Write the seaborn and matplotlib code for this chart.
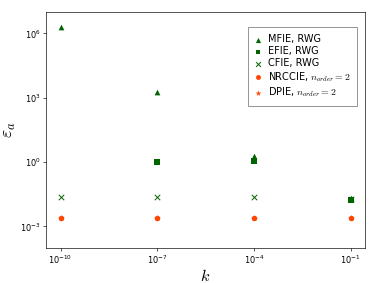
import numpy as np
import pandas as pd
import seaborn as sns
import matplotlib
matplotlib.use("Agg")
import matplotlib.pyplot as plt
from matplotlib.ticker import NullLocator

plt.rcParams['mathtext.fontset'] = 'cm'

k = [1e-10, 1e-7, 1e-4, 1e-1]
mfie = [1.9e6, 1.8e3, 1.9, 0.022]
efie = [np.nan, 1.0, 1.1, 0.017]
cfie = [0.024, 0.024, 0.024, 0.02]
nrccie = [2.4e-3, 2.4e-3, 2.4e-3, 2.4e-3]
dpie = [2.4e-3, 2.4e-3, 2.4e-3, 2.4e-3]

series = [
    ("MFIE, RWG", mfie, "^", "darkgreen", 50),
    ("EFIE, RWG", efie, "s", "darkgreen", 45),
    ("CFIE, RWG", cfie, "x", "darkgreen", 45),
    (r"NRCCIE, $n_{order}=2$", nrccie, "o", "orangered", 45),
    (r"DPIE, $n_{order}=2$", dpie, "*", "orangered", 70),
]

dpi = 58.5
fig, ax = plt.subplots(figsize=(374 / dpi, 283 / dpi), dpi=dpi)
fig.subplots_adjust(left=0.123, right=0.976, bottom=0.124, top=0.958)

for name, vals, mk, col, size in series:
    df = pd.DataFrame({"k": k, "err": vals}).dropna()
    sns.scatterplot(data=df, x="k", y="err", marker=mk, color=col, s=size,
                    linewidth=1.2 if mk == "x" else 0, label=name, ax=ax)

ax.set_xscale("log")
ax.set_yscale("log")
ax.set_ylim(1e-4, 1e7)
ax.set_xticks(k)
ax.set_yticks([1e-3, 1e0, 1e3, 1e6])
ax.xaxis.set_minor_locator(NullLocator())
ax.yaxis.set_minor_locator(NullLocator())
ax.set_xlabel("$k$", fontsize=20, labelpad=2)
ax.set_ylabel(r"$\varepsilon_a$", fontsize=22, labelpad=2)
ax.legend(loc="upper right", bbox_to_anchor=(0.99, 0.955), fancybox=False,
          edgecolor="0.5", framealpha=1, fontsize=12, markerscale=0.9,
          handlelength=0.6, handletextpad=0.7, labelspacing=0.2,
          borderpad=0.7)

plt.savefig("out.png", dpi=dpi)
